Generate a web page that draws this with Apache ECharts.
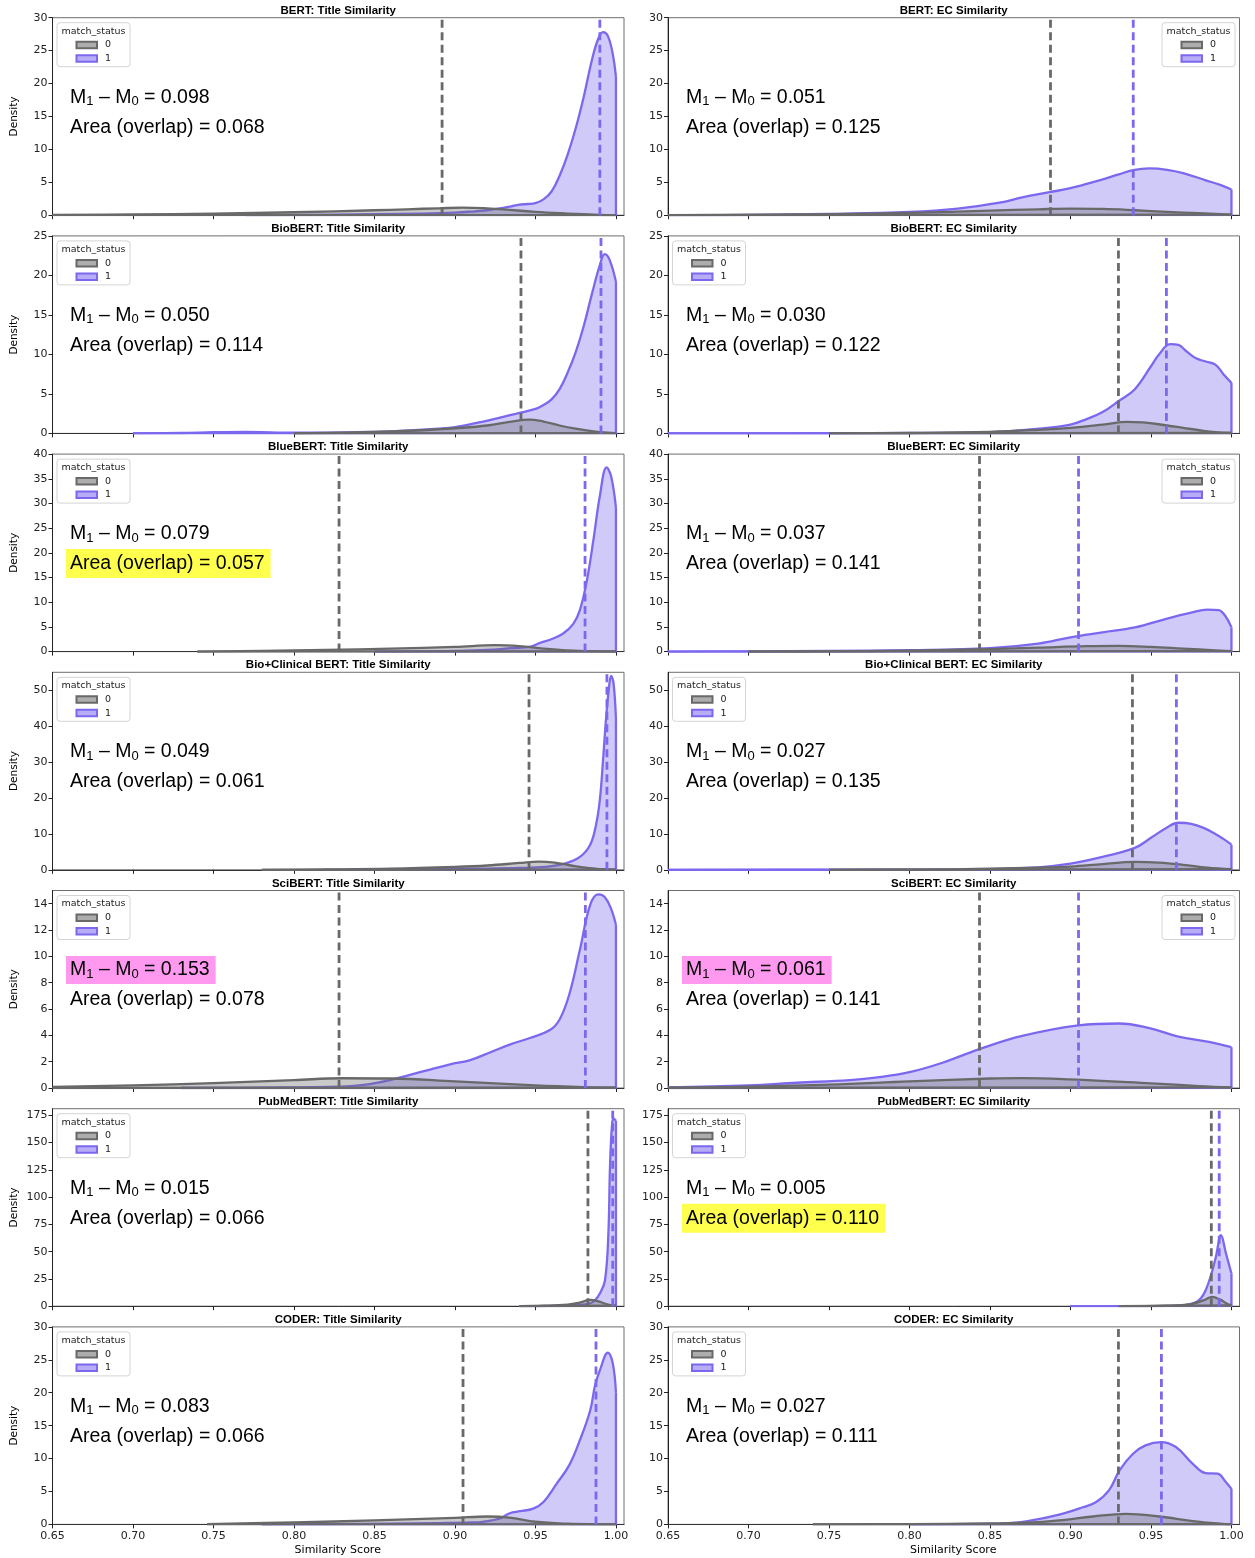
<!DOCTYPE html>
<html><head><meta charset="utf-8">
<script src="https://cdn.jsdelivr.net/npm/echarts@6/dist/echarts.min.js"></script>
<style>html,body{margin:0;padding:0;background:#fff}#c{width:1255px;height:1558px}</style>
</head><body><div id="c"></div>
<script>
// ---------------- data ----------------
const MODELS = ['BERT', 'BioBERT', 'BlueBERT', 'Bio+Clinical BERT', 'SciBERT', 'PubMedBERT', 'CODER'];
const KINDS = ['Title', 'EC'];
const X_TICKS = [0.65, 0.70, 0.75, 0.80, 0.85, 0.90, 0.95, 1.00];
const Y_TICKS = [
  [0, 5, 10, 15, 20, 25, 30],
  [0, 5, 10, 15, 20, 25],
  [0, 5, 10, 15, 20, 25, 30, 35, 40],
  [0, 10, 20, 30, 40, 50],
  [0, 2, 4, 6, 8, 10, 12, 14],
  [0, 25, 50, 75, 100, 125, 150, 175],
  [0, 5, 10, 15, 20, 25, 30]
];
const Y_MAX = [30, 25, 40, 55, 15, 181, 30];
const X_MIN = 0.65, X_MAX = 1.005;

// density curves: *_0 = match_status 0 (grey), *_1 = match_status 1 (purple)
const BERT_TITLE_0 = [[0.65,0.05],[0.70,0.12],[0.75,0.25],[0.80,0.45],[0.85,0.75],[0.87,0.9],[0.89,1.05],[0.905,1.15],[0.92,1.05],[0.93,0.9],[0.95,0.5],[0.97,0.25],[0.99,0.06],[1.0,0.02]];
const BERT_TITLE_1 = [[0.77,0.0],[0.80,0.05],[0.85,0.15],[0.88,0.25],[0.90,0.4],[0.91,0.55],[0.92,0.75],[0.93,1.1],[0.935,1.35],[0.94,1.6],[0.945,1.7],[0.95,1.85],[0.955,2.4],[0.96,3.6],[0.965,6.0],[0.97,9.2],[0.975,13.2],[0.98,18.0],[0.985,23.5],[0.989,26.8],[0.992,27.8],[0.995,27.2],[0.998,24.5],[1.0,21.0]];
const BERT_EC_0 = [[0.65,0.02],[0.75,0.15],[0.80,0.35],[0.85,0.7],[0.88,0.9],[0.90,1.0],[0.92,0.95],[0.94,0.75],[0.96,0.5],[0.98,0.3],[1.0,0.08]];
const BERT_EC_1 = [[0.65,0.0],[0.70,0.05],[0.75,0.2],[0.80,0.5],[0.83,1.0],[0.856,1.9],[0.87,2.7],[0.887,3.5],[0.90,4.1],[0.918,5.3],[0.93,6.2],[0.939,6.85],[0.949,7.1],[0.96,6.9],[0.97,6.4],[0.984,5.3],[0.993,4.6],[1.0,3.9]];
const BIOBERT_TITLE_0 = [[0.80,0.0],[0.83,0.1],[0.86,0.25],[0.88,0.4],[0.90,0.65],[0.92,1.0],[0.935,1.5],[0.946,1.75],[0.955,1.5],[0.965,1.0],[0.975,0.6],[0.985,0.3],[0.995,0.08],[1.0,0.03]];
const BIOBERT_TITLE_1 = [[0.70,0.0],[0.73,0.05],[0.75,0.15],[0.77,0.2],[0.79,0.1],[0.82,0.1],[0.85,0.2],[0.87,0.35],[0.89,0.6],[0.90,0.8],[0.915,1.4],[0.93,2.1],[0.94,2.6],[0.95,3.1],[0.955,3.6],[0.96,4.3],[0.965,5.6],[0.97,7.7],[0.975,10.3],[0.98,13.6],[0.985,17.6],[0.99,21.3],[0.993,22.7],[0.996,22.0],[1.0,19.2]];
const BIOBERT_EC_0 = [[0.75,0.0],[0.80,0.05],[0.85,0.2],[0.88,0.45],[0.90,0.7],[0.92,1.1],[0.935,1.45],[0.945,1.4],[0.96,1.0],[0.97,0.7],[0.98,0.4],[0.99,0.15],[1.0,0.05]];
const BIOBERT_EC_1 = [[0.65,0.0],[0.75,0.02],[0.80,0.05],[0.85,0.15],[0.875,0.5],[0.89,0.8],[0.90,1.1],[0.91,1.8],[0.92,2.7],[0.93,4.1],[0.94,5.6],[0.95,8.5],[0.955,10.0],[0.962,11.3],[0.967,11.2],[0.972,10.4],[0.978,9.5],[0.984,9.1],[0.99,8.7],[0.995,7.5],[1.0,6.4]];
const BLUEBERT_TITLE_0 = [[0.74,0.0],[0.78,0.15],[0.82,0.35],[0.86,0.6],[0.90,0.95],[0.925,1.3],[0.94,1.1],[0.955,0.6],[0.97,0.25],[0.99,0.05],[1.0,0.02]];
const BLUEBERT_TITLE_1 = [[0.85,0.0],[0.88,0.08],[0.90,0.15],[0.92,0.35],[0.935,0.7],[0.947,1.0],[0.953,1.8],[0.959,2.4],[0.967,3.6],[0.9735,5.6],[0.9776,8.4],[0.982,14.5],[0.986,22.6],[0.99,31.5],[0.9942,37.3],[0.997,35.5],[1.0,29.1]];
const BLUEBERT_EC_0 = [[0.70,0.0],[0.75,0.05],[0.80,0.2],[0.85,0.5],[0.88,0.8],[0.91,1.1],[0.93,1.15],[0.95,0.95],[0.97,0.6],[0.99,0.25],[1.0,0.1]];
const BLUEBERT_EC_1 = [[0.65,0.0],[0.70,0.05],[0.75,0.15],[0.80,0.3],[0.85,0.7],[0.88,1.6],[0.90,2.9],[0.92,3.9],[0.94,4.9],[0.96,6.7],[0.975,7.9],[0.985,8.5],[0.992,8.4],[0.996,7.3],[1.0,4.9]];
const BIOCLIN_TITLE_0 = [[0.78,0.0],[0.82,0.1],[0.86,0.3],[0.90,0.8],[0.92,1.2],[0.94,1.9],[0.952,2.3],[0.962,2.0],[0.972,1.2],[0.982,0.5],[0.99,0.2],[1.0,0.05]];
const BIOCLIN_TITLE_1 = [[0.82,0.0],[0.86,0.1],[0.90,0.25],[0.92,0.35],[0.94,0.5],[0.956,0.8],[0.968,1.7],[0.9776,3.6],[0.984,7.0],[0.9876,12.5],[0.99,19.5],[0.992,30.6],[0.9938,41.8],[0.9955,50.0],[0.997,54.0],[0.9985,52.0],[1.0,42.0]];
const BIOCLIN_EC_0 = [[0.75,0.0],[0.80,0.05],[0.85,0.3],[0.88,0.6],[0.90,0.9],[0.92,1.6],[0.94,2.2],[0.955,2.0],[0.97,1.4],[0.985,0.6],[1.0,0.2]];
const BIOCLIN_EC_1 = [[0.65,0.0],[0.75,0.02],[0.80,0.05],[0.85,0.2],[0.88,0.7],[0.90,1.7],[0.92,3.6],[0.94,6.1],[0.95,8.9],[0.96,11.8],[0.967,13.1],[0.975,12.8],[0.983,11.6],[0.99,10.0],[0.995,8.6],[1.0,7.0]];
const SCIBERT_TITLE_0 = [[0.65,0.08],[0.70,0.2],[0.75,0.37],[0.80,0.6],[0.83,0.74],[0.86,0.72],[0.90,0.5],[0.95,0.2],[0.98,0.07],[1.0,0.02]];
const SCIBERT_TITLE_1 = [[0.73,0.0],[0.78,0.03],[0.8286,0.1],[0.847,0.3],[0.8596,0.6],[0.872,1.0],[0.8845,1.4],[0.897,1.8],[0.909,2.1],[0.9217,2.7],[0.934,3.3],[0.9466,3.8],[0.959,4.4],[0.965,5.2],[0.971,7.1],[0.9776,10.5],[0.984,13.9],[0.989,14.7],[0.993,14.5],[0.997,13.6],[1.0,12.4]];
const SCIBERT_EC_0 = [[0.65,0.02],[0.70,0.1],[0.75,0.25],[0.80,0.5],[0.85,0.72],[0.87,0.75],[0.90,0.65],[0.95,0.35],[0.98,0.15],[1.0,0.05]];
const SCIBERT_EC_1 = [[0.65,0.05],[0.70,0.2],[0.73,0.4],[0.763,0.6],[0.78,0.8],[0.80,1.2],[0.82,1.9],[0.8435,2.95],[0.87,3.95],[0.905,4.75],[0.93,4.9],[0.949,4.55],[0.967,3.9],[0.986,3.5],[1.0,3.1]];
const PUBMED_TITLE_0 = [[0.94,0.0],[0.955,0.4],[0.97,1.5],[0.978,3.5],[0.984,5.8],[0.989,4.5],[0.994,2.0],[0.998,0.7],[1.0,0.4]];
const PUBMED_TITLE_1 = [[0.94,0.0],[0.96,0.3],[0.975,1.0],[0.984,2.7],[0.987,5.5],[0.99,11.6],[0.9932,23.8],[0.9953,66.7],[0.9963,127.7],[0.9975,165],[0.9985,172],[1.0,170]];
const PUBMED_EC_0 = [[0.93,0.0],[0.96,0.5],[0.975,2.0],[0.983,5.5],[0.988,8.5],[0.993,6.0],[0.997,2.5],[1.0,0.8]];
const PUBMED_EC_1 = [[0.90,0.0],[0.94,0.1],[0.96,0.3],[0.97,0.8],[0.977,3.0],[0.981,7.3],[0.984,14.7],[0.987,27.0],[0.9903,45.0],[0.9935,65.0],[0.9966,48.3],[1.0,30.0]];
const CODER_TITLE_0 = [[0.746,0.05],[0.80,0.3],[0.85,0.6],[0.88,0.85],[0.90,1.0],[0.92,1.2],[0.935,1.0],[0.95,0.4],[0.97,0.1],[0.99,0.02],[1.0,0.0]];
const CODER_TITLE_1 = [[0.78,0.0],[0.82,0.05],[0.86,0.1],[0.89,0.2],[0.91,0.3],[0.917,0.4],[0.928,0.9],[0.934,1.7],[0.9404,2.0],[0.9486,2.4],[0.955,3.4],[0.9632,6.2],[0.971,9.0],[0.9776,12.8],[0.984,17.3],[0.987,21.1],[0.99,23.4],[0.995,26.1],[0.998,24.5],[1.0,20.0]];
const CODER_EC_0 = [[0.74,0.0],[0.80,0.05],[0.85,0.15],[0.8725,0.25],[0.893,0.6],[0.914,1.2],[0.9345,1.6],[0.9553,1.2],[0.976,0.5],[0.9966,0.05],[1.0,0.02]];
const CODER_EC_1 = [[0.80,0.0],[0.84,0.08],[0.862,0.2],[0.8725,0.45],[0.893,1.5],[0.9077,2.6],[0.916,3.4],[0.924,5.2],[0.9305,8.2],[0.9387,10.7],[0.9466,12.0],[0.9563,12.5],[0.9655,11.75],[0.976,9.2],[0.984,7.8],[0.9914,7.7],[0.9966,6.4],[1.0,5.4]];

// means drawn as dashed lines (grey = status 0, purple = status 1)
const MEAN_0 = [0.892, 0.8876, 0.941, 0.9298, 0.828, 0.8435, 0.946, 0.9385, 0.828, 0.8435, 0.9826, 0.9875, 0.905, 0.9298];
const MEAN_1 = [0.990, 0.939, 0.9907, 0.9596, 0.9808, 0.905, 0.9944, 0.9658, 0.981, 0.905, 0.998, 0.9924, 0.9876, 0.9565];
const DIFF_TXT = ['0.098', '0.051', '0.050', '0.030', '0.079', '0.037', '0.049', '0.027', '0.153', '0.061', '0.015', '0.005', '0.083', '0.027'];
const AREA_TXT = ['0.068', '0.125', '0.114', '0.122', '0.057', '0.141', '0.061', '0.135', '0.078', '0.141', '0.066', '0.110', '0.066', '0.111'];
const HIGHLIGHT_DIFF = [null, null, null, null, null, null, null, null, '#ff99f0', '#ff99f0', null, null, null, null];
const HIGHLIGHT_AREA = [null, null, null, null, '#ffff4d', null, null, null, null, null, null, '#ffff4d', null, null];
const LEGEND_RIGHT = [false, true, false, false, false, true, false, false, false, true, false, false, false, false];

const CURVES = [
  [BERT_TITLE_0, BERT_TITLE_1], [BERT_EC_0, BERT_EC_1],
  [BIOBERT_TITLE_0, BIOBERT_TITLE_1], [BIOBERT_EC_0, BIOBERT_EC_1],
  [BLUEBERT_TITLE_0, BLUEBERT_TITLE_1], [BLUEBERT_EC_0, BLUEBERT_EC_1],
  [BIOCLIN_TITLE_0, BIOCLIN_TITLE_1], [BIOCLIN_EC_0, BIOCLIN_EC_1],
  [SCIBERT_TITLE_0, SCIBERT_TITLE_1], [SCIBERT_EC_0, SCIBERT_EC_1],
  [PUBMED_TITLE_0, PUBMED_TITLE_1], [PUBMED_EC_0, PUBMED_EC_1],
  [CODER_TITLE_0, CODER_TITLE_1], [CODER_EC_0, CODER_EC_1]
];

// ---------------- layout / style ----------------
const GRID_LEFT = [52.5, 668];
const GRID_W = 571.5, GRID_H = 197.5, TOP0 = 17.7, STEP = 218.2;
const C1 = '#7b68ee', C1F = 'rgba(123,104,238,0.5)';
const C0 = '#696969', C0F = 'rgba(105,105,105,0.5)';
const TICK_FONT = 'DejaVu Sans';

const grids = [], xAxes = [], yAxes = [], series = [], graphics = [];

CURVES.forEach((pair, i) => {
  const row = Math.floor(i / 2), col = i % 2;
  const left = GRID_LEFT[col], top = TOP0 + row * STEP;
  grids.push({ left, top, width: GRID_W, height: GRID_H, show: true, borderColor: '#6e6e6e', borderWidth: 1, backgroundColor: 'transparent', outerBoundsMode: 'none' });
  xAxes.push({
    type: 'value', gridIndex: i, min: X_MIN, max: X_MAX,
    axisLine: { show: true, onZero: false, lineStyle: { color: '#333', width: 1 } },
    axisTick: { show: true, customValues: X_TICKS, length: 4, lineStyle: { color: '#222', width: 1 } },
    axisLabel: { show: row === 6, customValues: X_TICKS, formatter: v => v.toFixed(2), fontFamily: TICK_FONT, fontSize: 11, color: '#222', margin: 6 },
    splitLine: { show: false }
  });
  yAxes.push({
    type: 'value', gridIndex: i, min: 0, max: Y_MAX[row],
    axisLine: { show: true, onZero: false, lineStyle: { color: '#222', width: 1 } },
    axisTick: { show: true, customValues: Y_TICKS[row], length: 4, lineStyle: { color: '#222', width: 1 } },
    axisLabel: { show: true, customValues: Y_TICKS[row], fontFamily: TICK_FONT, fontSize: 11, color: '#222', margin: 5 },
    splitLine: { show: false }
  });

  const addCurve = (data, line, fill, z) => {
    series.push({
      type: 'line', xAxisIndex: i, yAxisIndex: i, data: data, smooth: 0.4,
      showSymbol: false, symbol: 'none', lineStyle: { color: line, width: 2.3, join: 'round' },
      areaStyle: { color: fill, origin: 'start' }, z: z, silent: true
    });
    const first = data[0], last = data[data.length - 1];
    series.push({
      type: 'line', xAxisIndex: i, yAxisIndex: i,
      data: [[last[0], last[1]], [last[0], 0], [first[0], 0]],
      showSymbol: false, symbol: 'none', lineStyle: { color: line, width: 2.3 }, z: z, silent: true
    });
  };
  addCurve(pair[1], C1, C1F, 2);
  addCurve(pair[0], C0, C0F, 3);

  const addMean = (m, color) => {
    series.push({
      type: 'line', xAxisIndex: i, yAxisIndex: i, data: [[m, 0], [m, Y_MAX[row]]],
      showSymbol: false, symbol: 'none', lineStyle: { color: color, width: 2.8, type: [8, 4.5] }, z: 4, silent: true
    });
  };
  addMean(MEAN_0[i], C0);
  addMean(MEAN_1[i], C1);

  // title
  graphics.push({
    type: 'text', x: left + GRID_W / 2, y: top - 7,
    style: { text: MODELS[row] + ': ' + KINDS[col] + ' Similarity', font: 'bold 11.5px "Liberation Sans"', fill: '#000', textAlign: 'center', textVerticalAlign: 'middle' }
  });
  // y label
  if (col === 0) {
    graphics.push({
      type: 'text', x: 14, y: top + GRID_H / 2, rotation: Math.PI / 2,
      style: { text: 'Density', font: '10.5px "DejaVu Sans"', fill: '#000', textAlign: 'center', textVerticalAlign: 'middle' }
    });
  }
  // annotations
  const tx = left + (col === 0 ? 17.5 : 18);
  const diffStyle = {
    text: '{m|M}{s|1}{m| – M}{s|0}{m| = ' + DIFF_TXT[i] + '}',
    rich: {
      m: { fontSize: 19.5, fontFamily: 'Liberation Sans', fill: '#000', lineHeight: 22 },
      s: { fontSize: 13, fontFamily: 'Liberation Sans', fill: '#000', verticalAlign: 'bottom', lineHeight: 13 }
    },
    textAlign: 'left', textVerticalAlign: 'middle'
  };
  if (HIGHLIGHT_DIFF[i]) { diffStyle.backgroundColor = HIGHLIGHT_DIFF[i]; diffStyle.padding = [3, 6, 3, 4]; }
  graphics.push({ type: 'text', x: tx - (HIGHLIGHT_DIFF[i] ? 4 : 0), y: top + 79.5, style: diffStyle, z: 10 });
  const areaStyle = {
    text: 'Area (overlap) = ' + AREA_TXT[i], font: '19.5px "Liberation Sans"', fill: '#000',
    textAlign: 'left', textVerticalAlign: 'middle', lineHeight: 22
  };
  if (HIGHLIGHT_AREA[i]) { areaStyle.backgroundColor = HIGHLIGHT_AREA[i]; areaStyle.padding = [4, 6, 3, 4]; }
  graphics.push({ type: 'text', x: tx - (HIGHLIGHT_AREA[i] ? 4 : 0), y: top + 109.5, style: areaStyle, z: 10 });

  // legend
  const bx = LEGEND_RIGHT[i] ? left + GRID_W - 4.5 - 73 : left + 4.5;
  const by = top + 5;
  graphics.push({ type: 'rect', shape: { x: bx, y: by, width: 73, height: 44, r: 3 }, style: { fill: 'rgba(255,255,255,0.8)', stroke: '#d4d4d4', lineWidth: 1 }, z: 20 });
  graphics.push({ type: 'text', x: bx + 36.5, y: by + 8.5, style: { text: 'match_status', font: '9.5px "DejaVu Sans"', fill: '#222', textAlign: 'center', textVerticalAlign: 'middle' }, z: 21 });
  [[C0, 'rgba(105,105,105,0.55)', '0', 19], [C1, 'rgba(123,104,238,0.55)', '1', 32.5]].forEach(e => {
    graphics.push({ type: 'rect', shape: { x: bx + 19.5, y: by + e[3], width: 20.5, height: 6.5 }, style: { fill: e[1], stroke: e[0], lineWidth: 2 }, z: 21 });
    graphics.push({ type: 'text', x: bx + 48, y: by + e[3] + 3.3, style: { text: e[2], font: '9.5px "DejaVu Sans"', fill: '#222', textAlign: 'left', textVerticalAlign: 'middle' }, z: 21 });
  });
});

// x labels
[0, 1].forEach(col => {
  graphics.push({
    type: 'text', x: GRID_LEFT[col] + GRID_W / 2 - 0.5, y: 1550,
    style: { text: 'Similarity Score', font: '11px "DejaVu Sans"', fill: '#000', textAlign: 'center', textVerticalAlign: 'middle' }
  });
});

const chart = echarts.init(document.getElementById('c'), null, { renderer: 'canvas' });
chart.setOption({
  animation: false,
  backgroundColor: '#fff',
  grid: grids, xAxis: xAxes, yAxis: yAxes, series: series,
  graphic: { elements: graphics }
});
</script></body></html>
